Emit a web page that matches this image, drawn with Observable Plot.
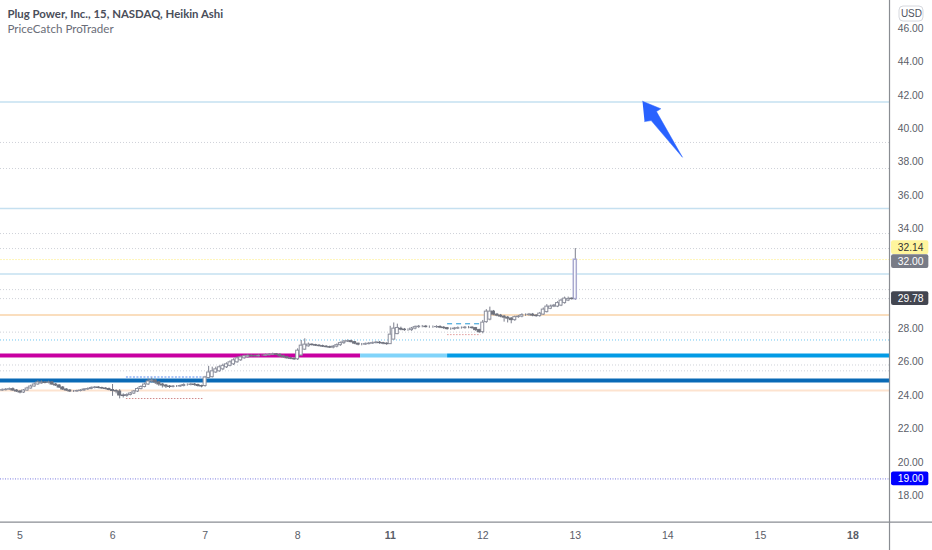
<!DOCTYPE html>
<html><head><meta charset="utf-8">
<style>html,body{margin:0;padding:0;background:#fff}svg{display:block}</style>
<script src="https://cdn.jsdelivr.net/npm/d3@7"></script>
<script src="https://cdn.jsdelivr.net/npm/@observablehq/plot@0.6"></script>
</head><body><div id="chart"></div>
<script>
const dayLabels=["5","6","7","8","11","12","13","14","15","18"];
const boldDays=[4,9];
const plainDays=[0,1,2,3,5,6,7,8];
const priceTicks=[46,44,42,40,38,36,34,28,26,24,22,20,18];
const opens=[24.30,24.32,24.35,24.38,24.30,24.24,24.18,24.30,24.42,24.54,24.66,24.72,24.78,24.75,24.78,24.66,24.60,24.48,24.36,24.30,24.24,24.24,24.27,24.30,24.36,24.39,24.45,24.48,24.45,24.42,24.39,
24.33,24.27,24.24,24.00,23.97,24.03,24.12,24.24,24.39,24.51,24.66,24.84,24.90,24.78,24.66,24.60,24.54,24.51,24.54,24.54,24.57,24.63,24.63,24.66,24.63,24.57,
24.57,25.05,25.10,25.38,25.45,25.57,25.69,25.78,25.87,25.99,26.11,26.23,26.29,26.38,26.37,26.35,26.38,26.38,26.41,26.44,26.47,26.44,26.35,26.29,26.23,26.20,
26.17,26.40,26.75,26.95,27.05,27.02,26.99,26.96,26.93,26.90,26.87,26.93,27.02,27.14,27.23,27.26,27.20,27.11,27.05,27.05,27.08,27.11,27.14,27.17,27.14,27.11,
27.08,27.35,27.68,28.00,27.95,27.92,27.92,28.01,28.10,28.13,28.13,28.10,28.10,28.10,28.11,28.07,28.04,27.98,27.98,28.01,28.04,28.04,28.07,28.07,28.04,27.92,
27.80,28.40,28.55,29.03,28.85,28.79,28.73,28.67,28.61,28.52,28.70,28.73,28.82,28.82,28.85,28.79,28.76,28.85,29.00,29.20,29.33,29.33,29.39,29.54,29.69,29.81,29.78];
const closes=[24.32,24.35,24.38,24.30,24.24,24.18,24.30,24.42,24.54,24.66,24.78,24.78,24.75,24.78,24.66,24.60,24.48,24.36,24.30,24.24,24.24,24.27,24.30,24.36,24.39,24.45,24.48,24.45,24.42,24.39,24.33,
24.27,24.24,24.00,23.97,24.03,24.12,24.24,24.39,24.51,24.66,24.84,24.90,24.78,24.66,24.60,24.54,24.51,24.54,24.54,24.57,24.63,24.63,24.66,24.63,24.57,24.54,
25.08,25.38,25.45,25.57,25.69,25.78,25.87,25.99,26.11,26.23,26.29,26.35,26.38,26.35,26.35,26.38,26.38,26.41,26.44,26.47,26.44,26.35,26.29,26.23,26.20,26.17,
26.69,26.99,27.05,27.05,27.02,26.99,26.96,26.93,26.90,26.87,26.93,27.02,27.14,27.23,27.26,27.20,27.11,27.05,27.05,27.08,27.11,27.14,27.17,27.14,27.11,27.08,
27.65,28.01,28.05,27.95,27.92,27.92,28.01,28.10,28.13,28.13,28.10,28.10,28.10,28.11,28.07,28.04,27.98,27.98,28.01,28.04,28.04,28.07,28.07,28.04,27.92,27.80,
28.37,29.03,29.03,28.85,28.79,28.73,28.67,28.61,28.52,28.70,28.73,28.82,28.82,28.85,28.79,28.76,28.91,29.15,29.33,29.33,29.39,29.54,29.69,29.81,29.78,29.78,32.14];
const highs=[24.40,24.42,24.45,24.46,24.36,24.30,24.36,24.50,24.62,24.74,24.88,24.88,24.84,24.86,24.84,24.72,24.66,24.54,24.42,24.36,24.30,24.32,24.35,24.42,24.45,24.52,24.54,24.54,24.50,24.47,24.45,
24.66,24.35,24.35,24.10,24.10,24.18,24.30,24.46,24.58,24.74,24.98,25.05,24.96,24.84,24.72,24.66,24.60,24.60,24.60,24.63,24.70,24.70,24.74,24.72,24.68,24.62,
25.15,25.75,25.70,25.70,25.78,25.88,25.96,26.08,26.20,26.32,26.38,26.43,26.46,26.44,26.43,26.45,26.45,26.48,26.51,26.54,26.52,26.50,26.41,26.35,26.29,26.26,
26.80,27.30,27.40,27.15,27.10,27.07,27.05,27.02,26.99,26.96,27.00,27.09,27.21,27.30,27.33,27.32,27.24,27.13,27.12,27.15,27.18,27.21,27.24,27.24,27.19,27.16,
28.15,28.35,28.28,28.10,28.02,28.00,28.08,28.17,28.20,28.20,28.20,28.17,28.17,28.18,28.18,28.12,28.08,28.05,28.08,28.11,28.11,28.14,28.14,28.12,28.08,27.98,
28.50,29.15,29.30,29.10,28.92,28.86,28.80,28.74,28.68,28.76,28.80,28.90,28.89,28.92,28.92,28.85,28.98,29.25,29.45,29.42,29.46,29.62,29.77,29.90,29.90,29.85,32.81];
const lows=[24.25,24.28,24.30,24.25,24.18,24.10,24.12,24.26,24.38,24.50,24.62,24.68,24.70,24.70,24.60,24.54,24.42,24.30,24.24,24.18,24.18,24.20,24.22,24.26,24.32,24.35,24.40,24.40,24.37,24.34,24.28,
23.95,24.10,23.80,23.85,23.90,23.98,24.06,24.18,24.34,24.46,24.60,24.75,24.66,24.55,24.45,24.42,24.42,24.46,24.48,24.49,24.52,24.56,24.58,24.56,24.50,24.46,
24.50,25.00,25.05,25.33,25.40,25.50,25.62,25.72,25.80,25.94,26.05,26.18,26.25,26.30,26.30,26.30,26.33,26.33,26.36,26.39,26.40,26.30,26.24,26.18,26.15,26.10,
26.10,26.35,26.70,26.90,26.97,26.94,26.91,26.88,26.85,26.82,26.80,26.86,26.95,27.07,27.18,27.15,27.05,26.98,26.98,27.01,27.04,27.07,27.10,27.07,27.04,27.01,
27.10,27.35,27.65,27.88,27.85,27.85,27.85,27.94,28.03,28.06,28.05,28.03,28.03,28.03,28.01,27.97,27.92,27.91,27.91,27.96,27.98,27.98,28.00,27.97,27.85,27.72,
27.70,28.33,28.48,28.78,28.72,28.66,28.40,28.35,28.30,28.45,28.63,28.66,28.75,28.75,28.72,28.69,28.70,28.80,28.95,29.15,29.27,29.27,29.33,29.48,29.63,29.72,29.70];

const dottedLevels=[39.17,37.61,33.71,32.81,30.35,29.81,27.80,25.83,25.48];
const lightBlueLevels=[41.59,35.21,31.28];
const arrowXs=[6.726,6.924,6.877,7.158,6.820,6.748];
const arrowYs=[41.64,41.19,41.02,38.28,40.48,40.42];
const thickSegments=[
 {from:-0.2107,to:3.68,y:26.40,c:"#c800a1"},
 {from:3.68,to:4.62,y:26.40,c:"#81d4fa"},
 {from:4.62,to:9.395,y:26.40,c:"#039be5"},
 {from:-0.2107,to:9.395,y:24.90,c:"#0a6ab6"}];
const shortLevels=[
 {from:1.15,to:1.99,y:25.11,c:"#5b8def",d:"2,1.5"},
 {from:1.15,to:1.99,y:23.82,c:"#d08a8a",d:"1.5,1.5"},
 {from:4.62,to:4.98,y:28.30,c:"#2196d3",d:"5,4"},
 {from:4.62,to:4.98,y:27.65,c:"#e09a9a",d:"1.5,1.5"}];
const priceLabels=[
 {y:32.87,t:"32.14",bg:"#fff59d",fg:"#333"},
 {y:32.03,t:"32.00",bg:"#787b86",fg:"#fff"},
 {y:29.81,t:"29.78",bg:"#434651",fg:"#fff"},
 {y:19.00,t:"19.00",bg:"#0000ff",fg:"#fff"}];

const candles=d3.range(closes.length).map(i=>({x:(i-5)/26,o:opens[i],c:closes[i],h:highs[i],l:lows[i]}));
const bw=0.42/26, F="Liberation Sans, Arial, sans-serif";
const xEnd=9.395;
const arrow=arrowXs.map((x,i)=>({x,y:arrowYs[i]}));
const rules=(lv,o)=>Plot.ruleY(lv,{x1:-0.2107,x2:xEnd,...o});

const chart=Plot.plot({
 width:932,height:550,margin:0,
 style:{background:"#fff",fontFamily:F},
 x:{domain:[-0.2107,9.8595],range:[0,932]},
 y:{domain:[14.71,47.68],range:[550,0]},
 marks:[
  rules(dottedLevels,{stroke:"#cfd2d9",strokeDasharray:"1,2"}),
  rules(lightBlueLevels,{stroke:"#c5e0f0",strokeWidth:1.5}),
  rules([32.15],{stroke:"#fff6b8",strokeDasharray:"2,1"}),
  rules([28.82],{stroke:"#f9d3a8",strokeWidth:1.5}),
  rules([24.30],{stroke:"#fde3cf",strokeWidth:1.8}),
  rules([27.33],{stroke:"#6cc5f0",strokeDasharray:"1,2"}),
  rules([19.00],{stroke:"#7a7ae0",strokeDasharray:"1,1.5"}),
  Plot.ruleY(thickSegments,{x1:"from",x2:"to",y:"y",stroke:"c",strokeWidth:4}),
  ...shortLevels.map(s=>Plot.ruleY([s],{x1:"from",x2:"to",y:"y",stroke:s.c,strokeDasharray:s.d})),
  Plot.ruleX(candles,{x:"x",y1:"l",y2:"h",stroke:"#7c7f8c",strokeWidth:1}),
  Plot.rect(candles.filter(d=>d.c>=d.o&&d.c-d.o<=1),{x1:d=>d.x-bw,x2:d=>d.x+bw,y1:"o",y2:"c",fill:"#fff",stroke:"#8c8f9c",strokeWidth:1}),
  Plot.rect(candles.filter(d=>d.c-d.o>1),{x1:d=>d.x-bw,x2:d=>d.x+bw,y1:"o",y2:"c",fill:"#fff",stroke:"#a9a9cf",strokeWidth:1.5}),
  Plot.rect(candles.filter(d=>d.c<d.o),{x1:d=>d.x-bw,x2:d=>d.x+bw,y1:"o",y2:"c",fill:"#6f727d",stroke:"#6f727d",strokeWidth:1}),
  Plot.line(arrow,{x:"x",y:"y",fill:"#2962ff",stroke:"#2962ff",strokeWidth:0.5,strokeLinejoin:"miter"}),
  Plot.ruleY([16.41],{stroke:"#8a8d93",strokeWidth:1.2}),
  Plot.ruleX([xEnd],{stroke:"#8a8d93",strokeWidth:1.2}),
  Plot.axisY({anchor:"right",ticks:priceTicks,tickFormat:d=>d.toFixed(2),tickSize:0,tickPadding:0,textAnchor:"end",dx:-9,fontSize:10.3,fill:"#5a5d68",label:null}),
  Plot.axisX({anchor:"bottom",ticks:plainDays,tickFormat:i=>dayLabels[i],tickSize:0,tickPadding:0,dy:-19,fontSize:10.5,fill:"#5a5d68",label:null}),
  Plot.axisX({anchor:"bottom",ticks:boldDays,tickFormat:i=>dayLabels[i],tickSize:0,tickPadding:0,dy:-19,fontSize:10.5,fontWeight:"bold",fill:"#5a5d68",label:null}),
  Plot.rect(priceLabels,{x1:9.417,x2:9.82,y1:d=>d.y-0.41,y2:d=>d.y+0.41,fill:"bg",rx:2}),
  Plot.text(priceLabels,{x:9.762,y:"y",text:"t",fill:"fg",textAnchor:"end",fontSize:10.3}),
  Plot.rect([0],{x1:9.503,x2:9.762,y1:47.32,y2:46.42,fill:"#fff",stroke:"#d6d8de",rx:4}),
  Plot.text(["USD"],{x:9.632,y:46.87,text:d=>d,fill:"#50535e",fontSize:10}),
  Plot.text(["Plug Power, Inc., 15, NASDAQ, Heikin Ashi"],{frameAnchor:"top-left",dx:7,dy:9,text:d=>d,fontFamily:"Lato",fontWeight:700,fontSize:11.4,fill:"#4a4e5a",lineAnchor:"top"}),
  Plot.text(["PriceCatch ProTrader"],{frameAnchor:"top-left",dx:7,dy:24,text:d=>d,fontFamily:"Lato",fontSize:11.6,fill:"#6a6d78",lineAnchor:"top"})
 ]
});
document.getElementById("chart").append(chart);
</script></body></html>
